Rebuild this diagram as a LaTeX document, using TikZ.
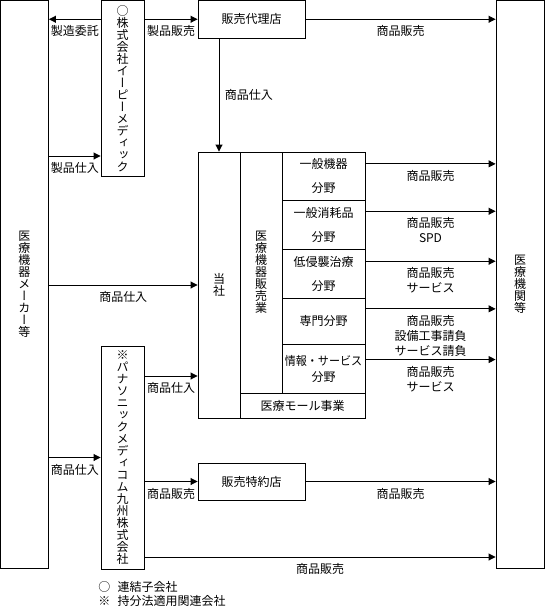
\documentclass[tikz,border=0pt]{standalone}
\usepackage{fontspec}
\setmainfont{Noto Sans CJK JP}
\newfontfamily\tatefont[RawFeature=+vert]{Noto Sans CJK JP}
\usetikzlibrary{arrows.meta, positioning}
\tikzset{
	block/.style={draw, inner sep=0pt},
	flow/.style={-{Triangle[length=7pt, width=7pt]}},
	flowlabel/.style={anchor=north, yshift=-6pt, inner sep=0pt, align=center}
}
% tategaki: one character per line
\newcommand{\tate}[1]{\vbox{\tatefont\baselineskip=12pt\lineskiplimit=-\maxdimen\tateloop#1\relax}}
\def\tateloop#1{\ifx\relax#1\else\hbox to 12pt{\hss#1\hss}\expandafter\tateloop\fi}

\begin{document}
\begin{tikzpicture}[x=1pt, y=-1pt, line width=0.9pt, font=\fontsize{12}{15}\selectfont]
		\useasboundingbox (0,0) rectangle (545,606);
		
		\node[block, minimum width=48pt, minimum height=568pt] (maker) at (24.5,284.5) {};
		\node (makertext) at (maker) {\tate{医療機器メーカー等}};
		
		\node[block, minimum width=48pt, minimum height=568pt] (hospital) at (520,284.5) {};
		\node (hospitaltext) at (hospital) {\tate{医療機関等}};
		
		\node[block, minimum width=43pt, minimum height=175.5pt] (ep) at (122.5,88.25) {};
		\node (eptext) at (ep) {\tate{○株式会社イーピーメディック}};
		
		\node[block, minimum width=43pt, minimum height=223pt] (pmk) at (122.5,457.5) {};
		\node (pmktext) at (pmk) {\tate{※パナソニックメディコム九州株式会社}};
		
		\node[block, minimum width=107pt, minimum height=37.5pt] (agency) at (251.5,19.25) {};
		\node (agencytext) at (agency) {販売代理店};
		
		\node[block, minimum width=107pt, minimum height=37pt] (dealer) at (251.5,481.5) {};
		\node (dealertext) at (dealer) {販売特約店};
		
		\node[block, minimum width=42pt, minimum height=266pt] (company) at (219,285) {};
		\node (companytext) at (company) {\tate{当社}};
		
		\node[block, minimum width=42pt, minimum height=241pt] (sales) at (261,272.5) {};
		\node (salestext) at (sales) {\tate{医療機器販売業}};
		
		\node[block, minimum width=125pt, minimum height=25pt] (mall) at (302.5,405.5) {};
		\node (malltext) at (mall) {医療モール事業};
		
		% divisions
		\node[block, minimum width=83pt, minimum height=48pt] (div1) at (323.5,176) {};
		\node[align=center] (div1text) at (div1) {一般機器\\[9pt]分野};
		
		\node[block, minimum width=83pt, minimum height=49pt] (div2) at (323.5,224.5) {};
		\node[align=center] (div2text) at (div2) {一般消耗品\\[9pt]分野};
		
		\node[block, minimum width=83pt, minimum height=49pt] (div3) at (323.5,273.5) {};
		\node[align=center] (div3text) at (div3) {低侵襲治療\\[9pt]分野};
		
		\node[block, minimum width=83pt, minimum height=46pt] (div4) at (323.5,321) {};
		\node[align=center] (div4text) at (div4) {専門分野};
		
		\node[block, minimum width=83pt, minimum height=49pt] (div5) at (323.5,368.5) {};
		\node[align=center] (div5text) at (div5) {\scalebox{0.92}[1]{情報・サービス}\\[1pt]分野};
		
		\coordinate (epin) at (0,156);
		\coordinate (pmkout) at (0,376);
		\coordinate (pmkdirect) at (0,557);
		
		\draw[flow] (ep.west |- agency) -- (maker.east |- agency) node[flowlabel, midway] (lblorder) {製造委託};
		\draw[flow] (ep.east |- agency) -- (agency.west) node[flowlabel, midway] (lblepsell) {製品販売};
		\draw[flow] (agency.east) -- (hospital.west |- agency) node[flowlabel, midway] (lblagsell) {商品販売};
		\draw[flow] (company.north |- agency.south) -- (company.north) node[midway, right=2pt] (lblagbuy) {商品仕入};
		\draw[flow] (maker.east |- epin) -- (ep.west |- epin) node[flowlabel, midway] (lblepbuy) {製品仕入};
		\draw[flow] (maker.east |- company) -- (company.west) node[flowlabel, midway] (lblbuy) {商品仕入};
		\draw[flow] (pmk.east |- pmkout) -- (company.west |- pmkout) node[flowlabel, midway] (lblpmksell) {商品仕入};
		\draw[flow] (maker.east |- pmk) -- (pmk.west) node[flowlabel, midway] (lblpmkbuy) {商品仕入};
		\draw[flow] (pmk.east |- dealer) -- (dealer.west) node[flowlabel, midway] (lbldealer) {商品販売};
		\draw[flow] (dealer.east) -- (hospital.west |- dealer) node[flowlabel, midway] (lbldealsell) {商品販売};
		\draw[flow] (pmk.east |- pmkdirect) -- (hospital.west |- pmkdirect) node[flowlabel, midway] (lbldirect) {商品販売};
		
		\foreach \d/\gap/\txt in {div1/12.3/{商品販売}, div2/11.7/{商品販売\\SPD}, div3/12.7/{商品販売\\サービス}, div4/11.3/{商品販売\\設備工事請負\\サービス請負}, div5/16/{商品販売\\サービス}}
			\draw[flow] ([yshift=-\gap pt]\d.north east) -- ([yshift=-\gap pt]\d.north east -| hospital.west) node[flowlabel, midway] {\txt};
		
		\node[anchor=west, inner sep=0pt] (legenda) at (98,587) {○\hspace{0.6em}連結子会社};
		\node[anchor=west, inner sep=0pt] (legendb) at (98,601) {※\hspace{0.6em}持分法適用関連会社};
	\end{tikzpicture}
\end{document}
